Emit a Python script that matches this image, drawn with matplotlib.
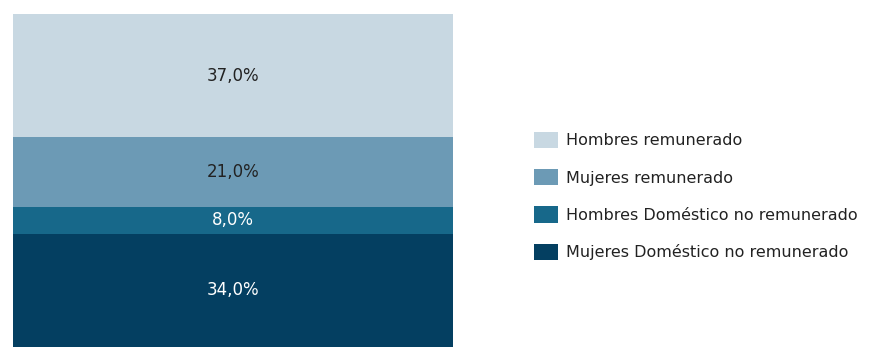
import matplotlib.pyplot as plt
from matplotlib.patches import Patch

categories = ["Mujeres Doméstico no remunerado", "Hombres Doméstico no remunerado",
              "Mujeres remunerado", "Hombres remunerado"]
values = [34.0, 8.0, 21.0, 37.0]
colors = ["#043f61", "#17688a", "#6c9ab5", "#c8d8e2"]
text_colors = ["white", "white", "#222222", "#222222"]

fig = plt.figure(figsize=(8.95, 3.47), dpi=100)
ax = fig.add_axes([13/895, 0, 440/895, 1 - 14/347])
bottom = 0
for cat, v, c, tc in zip(categories, values, colors, text_colors):
    ax.bar(0, v, bottom=bottom, width=1, color=c, label=cat)
    ax.text(0, bottom + v/2, f"{v:.1f}%".replace(".", ","), ha="center", va="center",
            color=tc, fontsize=12, family="DejaVu Sans", fontweight="medium")
    bottom += v
ax.set_xlim(-0.5, 0.5)
ax.set_ylim(0, 100)
ax.axis("off")

handles = [Patch(facecolor=c) for c in colors][::-1]
labels = categories[::-1]
fig.legend(handles, labels, loc="center left", bbox_to_anchor=(520/895, 1 - 196/347),
           frameon=False, prop={"family": "DejaVu Sans", "size": 11.5},
           handlelength=1.5, handleheight=1.2, handletextpad=0.5, labelspacing=1.3,
           labelcolor="#222222")
fig.savefig("out.png", dpi=100)
